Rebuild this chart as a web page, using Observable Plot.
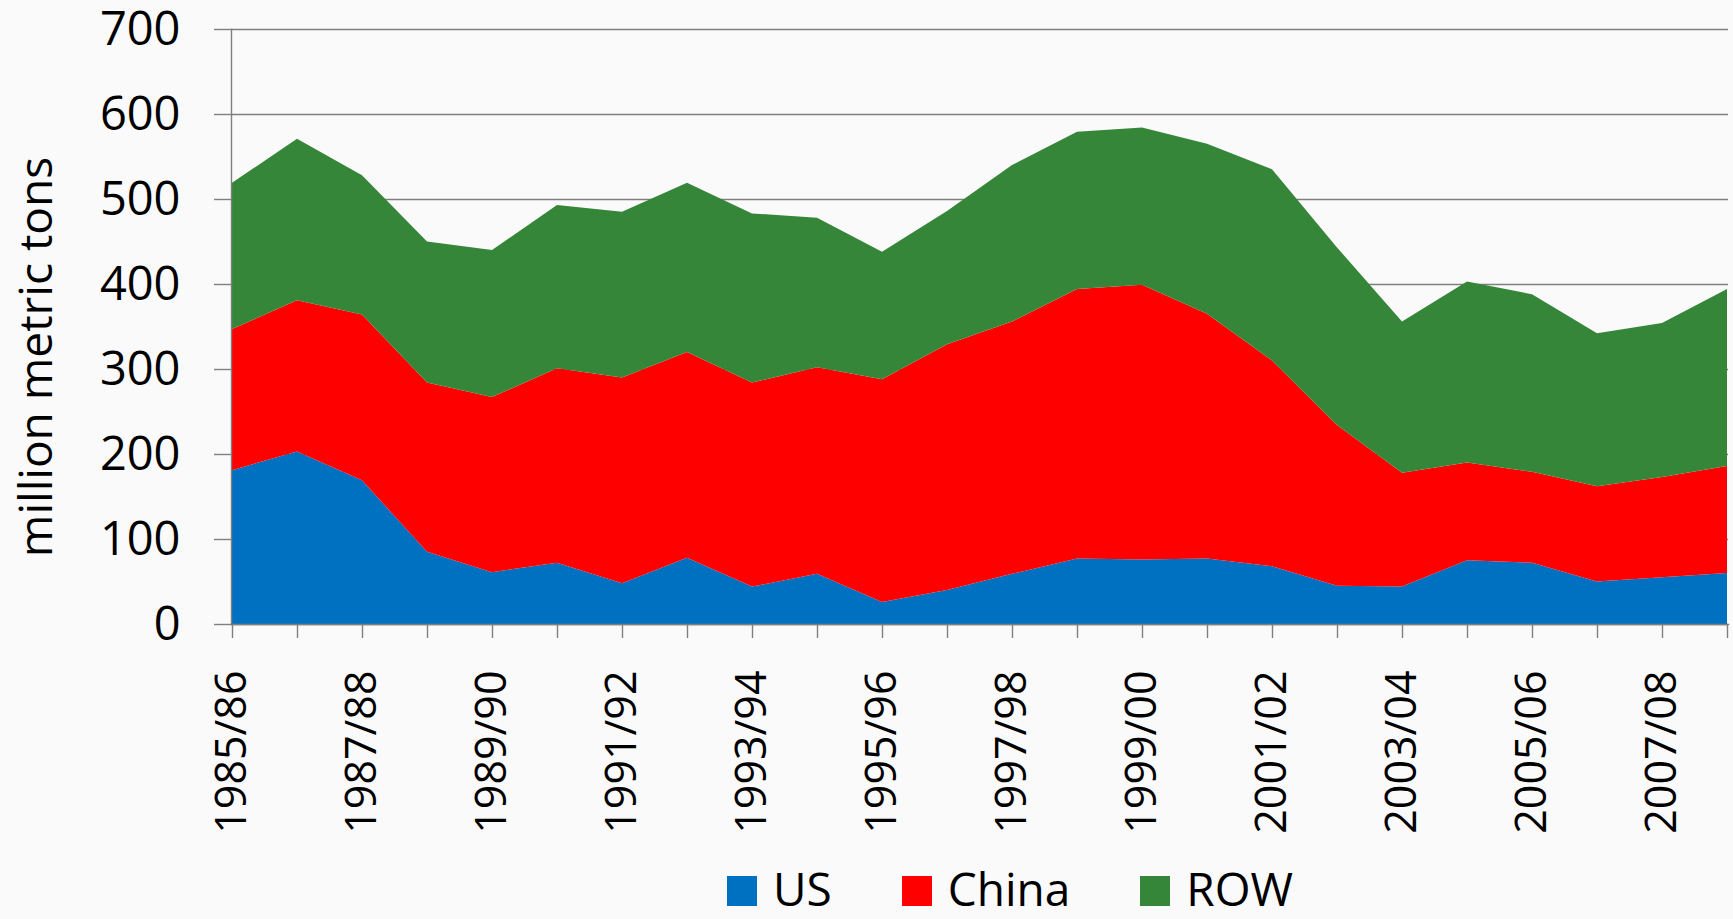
<!DOCTYPE html>
<html>
<head>
<meta charset="utf-8">
<script src="https://cdn.jsdelivr.net/npm/d3@7"></script>
<script src="https://cdn.jsdelivr.net/npm/@observablehq/plot@0.6"></script>
<style>
  html, body { margin: 0; padding: 0; background: #fafafa; }
  #chart { position: relative; width: 1733px; }
  #legend {
    display: flex; align-items: baseline;
    margin-left: 727px; height: 59px;
    font-family: "Open Sans", sans-serif; font-size: 46px; line-height: 1;
    padding-top: 5px; box-sizing: border-box;
  }
  .item { display: flex; align-items: baseline; margin-right: 70px; }
  .sw { display: inline-block; width: 30px; height: 30px; margin-right: 16px; }
</style>
</head>
<body>
<div id="chart"></div>
<div id="legend"></div>
<script>
const categories = ["1985/86","1986/87","1987/88","1988/89","1989/90","1990/91","1991/92","1992/93",
  "1993/94","1994/95","1995/96","1996/97","1997/98","1998/99","1999/00","2000/01","2001/02",
  "2002/03","2003/04","2004/05","2005/06","2006/07","2007/08","2008/09"];
const xTickLabels = ["1985/86","1987/88","1989/90","1991/92","1993/94","1995/96","1997/98",
  "1999/00","2001/02","2003/04","2005/06","2007/08"];
const seriesNames = ["US", "China", "ROW"];
const seriesColors = ["#0070C0", "#FF0000", "#36863A"];
const usValues =    [181, 203, 169, 85, 61, 72, 48, 78, 44, 59, 26, 40, 59, 77, 76, 77, 68, 45, 44, 75, 72, 50, 55, 60];
const chinaValues = [166, 178, 195, 199, 206, 229, 242, 242, 240, 243, 262, 289, 297, 317, 323, 288, 242, 189, 134, 115, 107, 112, 118, 126];
const rowValues =   [172, 190, 164, 166, 173, 192, 195, 199, 199, 176, 150, 157, 184, 185, 185, 200, 225, 209, 178, 213, 209, 180, 181, 208];
const yTicks = [0, 100, 200, 300, 400, 500, 600, 700];
const yLabel = "million metric tons";

const seriesValues = [usValues, chinaValues, rowValues];
const rows = [];
categories.forEach((year, i) => {
  seriesNames.forEach((s, k) => rows.push({year, series: s, value: seriesValues[k][i]}));
});
const shown = new Set(xTickLabels);

const chart = Plot.plot({
  width: 1733, height: 860,
  marginTop: 29, marginBottom: 236, marginLeft: 231, marginRight: 5,
  style: {fontFamily: "'Open Sans', sans-serif", background: "transparent", color: "#000", overflow: "visible"},
  x: {type: "point", domain: categories, padding: 0},
  y: {domain: [0, 700]},
  color: {domain: seriesNames, range: seriesColors},
  marks: [
    Plot.gridY(yTicks, {stroke: "#7f7f7f", strokeOpacity: 1, strokeWidth: 1.4}),
    Plot.areaY(rows, {x: "year", y: "value", fill: "series", z: "series"}),
    Plot.frame({anchor: "left", stroke: "#7f7f7f", strokeWidth: 1.4}),
    Plot.frame({anchor: "bottom", stroke: "#7f7f7f", strokeWidth: 1.4}),
    Plot.axisY(yTicks, {tickSize: 17, tickPadding: 34, fontSize: 47, stroke: "#7f7f7f", strokeWidth: 1.4,
      label: yLabel, labelAnchor: "center", labelOffset: 212, labelArrow: "none"}),
    Plot.axisX(categories, {tickSize: 14, tickPadding: 32, tickRotate: -90, fontSize: 43,
      stroke: "#7f7f7f", strokeWidth: 1.4, tickFormat: d => shown.has(d) ? d : "", label: null})
  ]
});
document.getElementById("chart").appendChild(chart);

const yl = chart.querySelector('g[aria-label="y-axis label"]');
if (yl) {
  const t = yl.getAttribute("transform");
  yl.setAttribute("transform", (t ? t + " " : "") + "translate(0,30)");
  yl.setAttribute("font-size", 46);
  yl.querySelectorAll("text").forEach(e => e.setAttribute("font-size", 46));
}

const legend = document.getElementById("legend");
seriesNames.forEach((s, k) => {
  const item = document.createElement("div");
  item.className = "item";
  const sw = document.createElement("span");
  sw.className = "sw";
  sw.style.background = seriesColors[k];
  const tx = document.createElement("span");
  tx.textContent = s;
  item.appendChild(sw); item.appendChild(tx);
  legend.appendChild(item);
});
</script>
</body>
</html>
